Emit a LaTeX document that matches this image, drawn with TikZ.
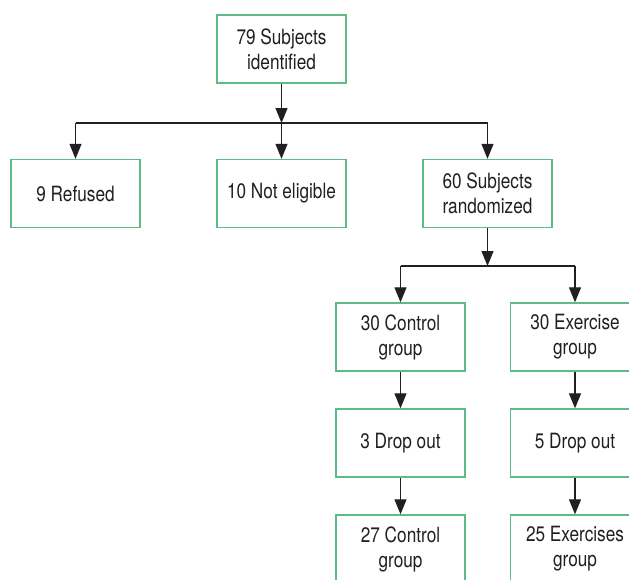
\documentclass[tikz,border=0pt]{standalone}
\usepackage{fontspec}
\setmainfont{TeX Gyre Heros}[FakeStretch=0.82]
\usetikzlibrary{arrows.meta}
\definecolor{boxgreen}{HTML}{5DBB84}
\definecolor{ink}{HTML}{231F20}
\begin{document}
\begin{tikzpicture}[x=1pt,y=-1pt,
  box/.style={draw=boxgreen,line width=1.4pt,minimum width=129pt,minimum height=68pt,
    align=center,inner sep=0pt,font=\fontsize{21}{25}\selectfont,text=ink},
  arr/.style={draw=ink,line width=1.2pt,-{Triangle[width=12pt,length=15pt]}},
  ln/.style={draw=ink,line width=1.2pt}]
\useasboundingbox (0,0) rectangle (629,579);
\clip (0,0) rectangle (629,579);
\fill[white] (0,0) rectangle (629,579);
\node[box] (top) at (281.5,49) {79 Subjects\\identified};
\node[box] (ref) at (75.5,193.5) {9 Refused};
\node[box] (ne) at (281.5,193.5) {10 Not eligible};
\node[box] (rand) at (487.5,193.5) {60 Subjects\\randomized};
\node[box] (ctl) at (400.5,337) {30 Control\\group};
\node[box] (ex) at (575,337) {30 Exercise\\group};
\node[box] (cdo) at (400.5,443) {3 Drop out};
\node[box] (edo) at (575,443) {5 Drop out};
\node[box] (cf) at (400.5,549) {27 Control\\group};
\node[box] (ef) at (575,549) {25 Exercises\\group};
\coordinate (j1) at (281.5,123);
\coordinate (j2) at (487.5,266);
\draw[arr] (top.south) -- (j1);
\draw[ln] (j1 -| ref.north) -- (j1 -| rand.north);
\draw[arr] (j1 -| ref.north) -- (ref.north);
\draw[arr] (j1) -- (ne.north);
\draw[arr] (j1 -| rand.north) -- (rand.north);
\draw[arr] (rand.south) -- (j2);
\draw[ln] (j2 -| ctl.north) -- (j2 -| ex.north);
\draw[arr] (j2 -| ctl.north) -- (ctl.north);
\draw[arr] (j2 -| ex.north) -- (ex.north);
\draw[arr] (ctl.south) -- (cdo.north);
\draw[arr] (ex.south) -- (edo.north);
\draw[arr] (cdo.south) -- (cf.north);
\draw[arr] (edo.south) -- (ef.north);
\end{tikzpicture}
\end{document}
